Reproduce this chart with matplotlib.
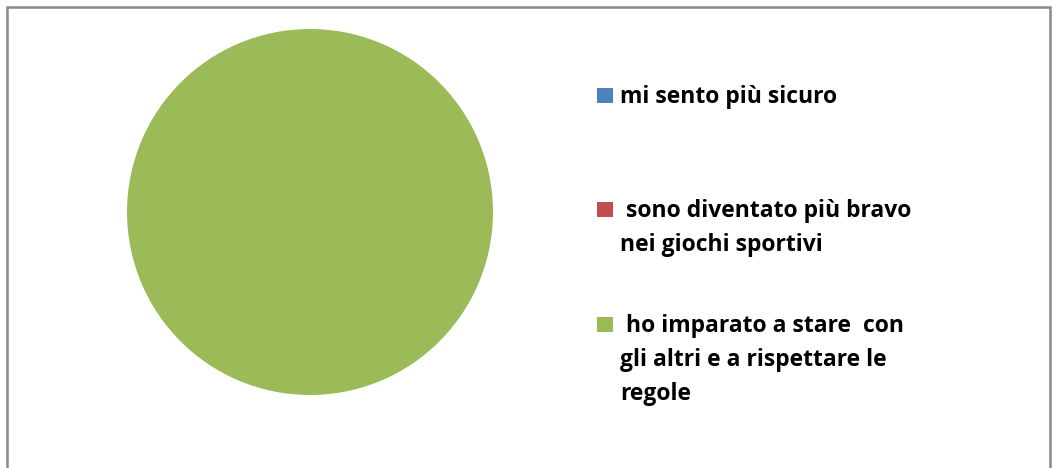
import matplotlib.pyplot as plt
from matplotlib.patches import Rectangle

# risposte (tutte sulla terza voce)
labels = [
    "mi sento più sicuro",
    " sono diventato più bravo\nnei giochi sportivi",
    " ho imparato a stare  con\ngli altri e a rispettare le\nregole",
]
values = [0, 0, 100]
colors = ["#4F81BD", "#C0504D", "#9BBB59"]

plt.rcParams['font.family'] = ['Open Sans', 'DejaVu Sans']

fig = plt.figure(figsize=(10.54, 4.68), dpi=100)
W, H = 1054, 468

# pie area: centre ~ (310, 212), radius ~183 px
r = 183
ax = fig.add_axes([(310 - r) / W, 1 - (212 + r) / H, 2 * r / W, 2 * r / H])
ax.pie(values, colors=colors, startangle=90, counterclock=False,
       wedgeprops=dict(linewidth=0))
ax.set_aspect('equal')
ax.set_xlim(-1, 1)
ax.set_ylim(-1, 1)
ax.axis('off')

# legend drawn by hand to match the spacing
baselines = [103, 217, 332]
step = 34
for lab, col, yb in zip(labels, colors, baselines):
    fig.patches.append(Rectangle((597 / W, 1 - yb / H), 16 / W, 15 / H,
                                 transform=fig.transFigure, facecolor=col,
                                 edgecolor='none'))
    for i, line in enumerate(lab.split("\n")):
        fig.text(620 / W, 1 - (yb + i * step) / H, line, fontsize=16.5,
                 fontweight='bold', va='baseline', ha='left', color='black',
                 transform=fig.transFigure)

# outer frame
fig.patches.append(Rectangle((7 / W, -0.05), (1050 - 7) / W, 1 - 7 / H + 0.05,
                             transform=fig.transFigure, fill=False,
                             edgecolor='#888888', linewidth=1.8))

fig.savefig("out.png", dpi=100)
